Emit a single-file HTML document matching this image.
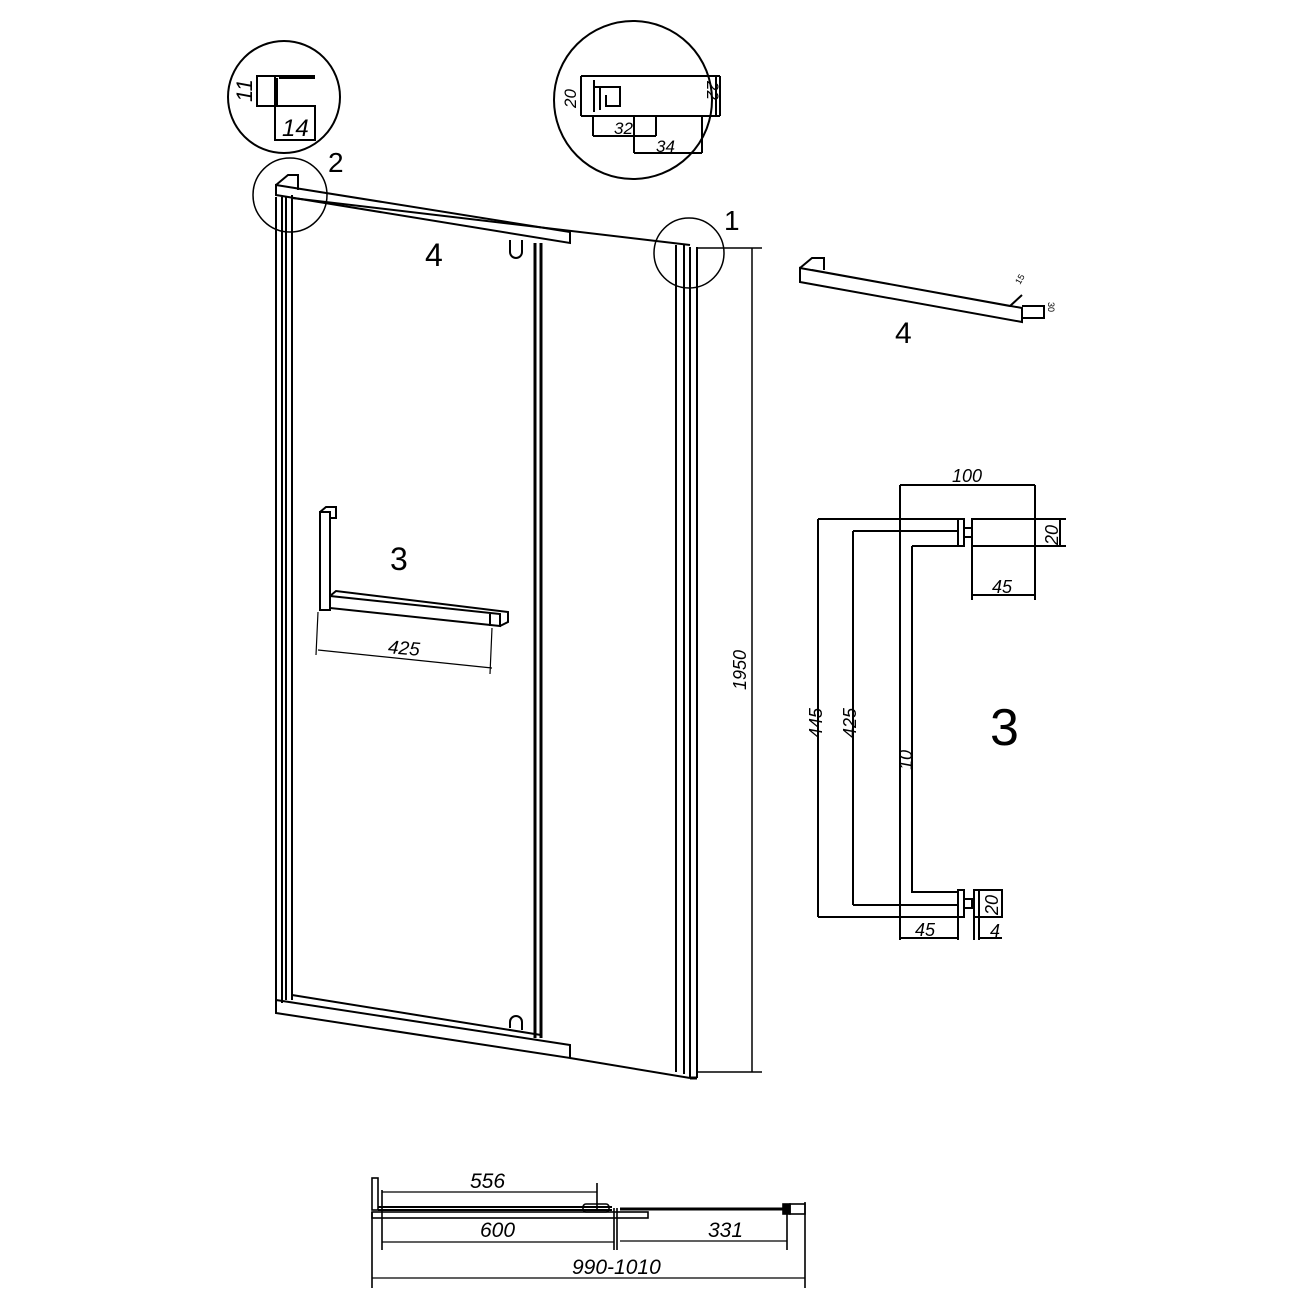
<!DOCTYPE html>
<html><head><meta charset="utf-8"><style>html,body{margin:0;padding:0;background:#fff}svg{display:block}</style></head><body>
<svg width="1302" height="1302" viewBox="0 0 1302 1302" xmlns="http://www.w3.org/2000/svg" font-family="Liberation Sans, sans-serif" fill="none" stroke="#000">
<!-- detail circles -->
<circle cx="284" cy="97" r="56" stroke-width="2"/>
<circle cx="633" cy="100" r="79" stroke-width="2"/>
<circle cx="290" cy="195" r="37" stroke-width="1.5"/>
<circle cx="689" cy="253" r="35" stroke-width="1.5"/>
<text x="328" y="172" font-size="28" fill="#000" stroke="none">2</text>
<text x="724" y="230" font-size="28" fill="#000" stroke="none">1</text>
<!-- detail 2 profile -->
<g stroke-width="2">
<rect x="257" y="76" width="18" height="30"/>
<path d="M275 76 H315 M275 106 H315 M277 78 V106 M279 78 H315"/>
<rect x="275" y="106" width="40" height="34"/>
</g>
<text x="0" y="0" font-size="22" font-style="italic" fill="#000" stroke="none" transform="translate(252 102) rotate(-90)">11</text>
<text x="282" y="136" font-size="24" font-style="italic" fill="#000" stroke="none">14</text>
<!-- detail 1 profile -->
<g stroke-width="2">
<path d="M581 76 H720 M581 116 H720 M581 76 V116 M720 76 V116 M593 76 H694 M593 116 H694"/>
<path d="M594 80 V112 M594 87 H620 V106 H606 V95 M600 86 V110"/>
<path d="M593 116 V136 M656 116 V136 M593 136 H656 M634 116 V153 M702 116 V153 M634 153 H702 M716 76 V116"/>
</g>
<text font-size="17" font-style="italic" fill="#000" stroke="none" transform="translate(576 108) rotate(-90)">20</text>
<text font-size="17" font-style="italic" fill="#000" stroke="none" transform="translate(707 81) rotate(90)">22</text>
<text x="614" y="134" font-size="17" font-style="italic" fill="#000" stroke="none">32</text>
<text x="656" y="152" font-size="17" font-style="italic" fill="#000" stroke="none">34</text>
<!-- main door -->
<g stroke-width="2">
<path d="M276 197 V1010 M282 197 V1003 M286 197 V1000 M292 195 V1000"/>
<path d="M276 185 L570 232 V243 L276 195 Z M276 185 L288 175 H298 V190"/>
<path d="M292 198 L690 245"/>
<path d="M510 240 v12 a6 6 0 0 0 12 0 v-12"/>
<path d="M535 243 V1038 M541 243 V1038" stroke-width="3"/>
<path d="M676 245 V1072 M684 245 V1074 M690 247 V1078 M697 247 V1078"/>
<path d="M690 1078 L697 1078" stroke-width="3"/>
<path d="M276 1000 L570 1045 V1058 L276 1013 Z M292 995 L541 1035"/>
<path d="M510 1028 v-6 a6 6 0 0 1 12 0 v8"/>
<path d="M570 1058 L690 1078"/>
</g>
<text x="425" y="266" font-size="32" fill="#000" stroke="none">4</text>
<!-- 1950 dim -->
<path d="M697 248 H762 M697 1072 H762 M752 248 V1072" stroke-width="1.5"/>
<text font-size="18" font-style="italic" fill="#000" stroke="none" transform="translate(746 690) rotate(-90)">1950</text>
<!-- handle in door -->
<g stroke-width="2">
<path d="M320 512 H330 V610 H320 Z M320 512 L326 507 H336 V518 L330 518"/>
<path d="M330 596 L500 614 V626 L330 608 Z M330 596 L336 591 L508 612 V622 L500 626"/>
<path d="M490 614 V626"/>
</g>
<path d="M318 612 L316 655 M492 628 L490 674 M318 650 L492 668" stroke-width="1.2"/>
<text x="388" y="655" font-size="19" font-style="italic" fill="#000" stroke="none" transform="rotate(5 410 650)">425</text>
<text x="390" y="570" font-size="32" fill="#000" stroke="none">3</text>
<!-- part 4 detail -->
<g stroke-width="2">
<path d="M800 268 L1022 308 V322 L800 282 Z M800 268 L812 258 H824 V270 M812 270 L1010 306 L1022 295"/>
<path d="M1022 306 H1044 V318 H1022"/>
</g>
<text x="895" y="343" font-size="30" fill="#000" stroke="none">4</text>
<text font-size="9" fill="#000" stroke="none" transform="translate(1020 285) rotate(-60)">15</text>
<text font-size="9" fill="#000" stroke="none" transform="translate(1048 302) rotate(90)">30</text>
<!-- handle detail -->
<g stroke-width="2">
<path d="M818 519 V917 M818 519 H958 M818 917 H958"/>
<path d="M853 531 V905 M853 531 H958 M853 905 H958"/>
<path d="M900 485 V940 M1035 485 V600"/>
<path d="M900 485 H1035"/>
<path d="M912 546 V892 H958 M912 546 H958"/>
<rect x="958" y="519" width="6" height="27"/>
<rect x="964" y="528" width="8" height="9"/>
<rect x="972" y="519" width="63" height="27"/>
<path d="M1035 519 H1066 M1035 546 H1066 M1060 519 V546 M972 546 V600 M972 595 H1035"/>
<rect x="958" y="890" width="6" height="27"/>
<rect x="964" y="899" width="8" height="9"/>
<rect x="974" y="890" width="28" height="27"/>
<path d="M979 890 V917 M958 917 V940 M974 917 V940 M979 917 V940 M900 938 H958 M979 938 H1002"/>
</g>
<text x="952" y="482" font-size="18" font-style="italic" fill="#000" stroke="none">100</text>
<text font-size="18" font-style="italic" fill="#000" stroke="none" transform="translate(1058 545) rotate(-90)">20</text>
<text x="992" y="593" font-size="18" font-style="italic" fill="#000" stroke="none">45</text>
<text font-size="18" font-style="italic" fill="#000" stroke="none" transform="translate(822 738) rotate(-90)">445</text>
<text font-size="18" font-style="italic" fill="#000" stroke="none" transform="translate(856 738) rotate(-90)">425</text>
<text font-size="18" font-style="italic" fill="#000" stroke="none" transform="translate(912 770) rotate(-90)">10</text>
<text x="990" y="745" font-size="52" fill="#000" stroke="none">3</text>
<text x="915" y="936" font-size="18" font-style="italic" fill="#000" stroke="none">45</text>
<text font-size="18" font-style="italic" fill="#000" stroke="none" transform="translate(998 915) rotate(-90)">20</text>
<text x="990" y="937" font-size="18" font-style="italic" fill="#000" stroke="none">4</text>
<!-- bottom plan -->
<g stroke-width="1.6">
<rect x="372" y="1178" width="6" height="32"/>
<path d="M378 1207 H612 M378 1210 H612" stroke-width="2"/>
<rect x="372" y="1212" width="276" height="6"/>
<rect x="583" y="1204" width="26" height="8" rx="3"/>
<path d="M620 1209 H783" stroke-width="3"/>
<rect x="783" y="1204" width="7" height="10" fill="#000"/>
<rect x="790" y="1204" width="15" height="10"/>
<path d="M382 1190 V1250 M597 1183 V1210 M614 1208 V1250 M617 1208 V1250 M787 1212 V1250 M805 1202 V1288 M372 1212 V1288"/>
<path d="M382 1192 H597 M382 1242 H614 M620 1241 H787 M372 1278 H805" stroke-width="1.3"/>
</g>
<text x="470" y="1188" font-size="21" font-style="italic" fill="#000" stroke="none">556</text>
<text x="480" y="1237" font-size="21" font-style="italic" fill="#000" stroke="none">600</text>
<text x="708" y="1237" font-size="21" font-style="italic" fill="#000" stroke="none">331</text>
<text x="572" y="1274" font-size="21" font-style="italic" fill="#000" stroke="none">990-1010</text>
</svg>
</body></html>
